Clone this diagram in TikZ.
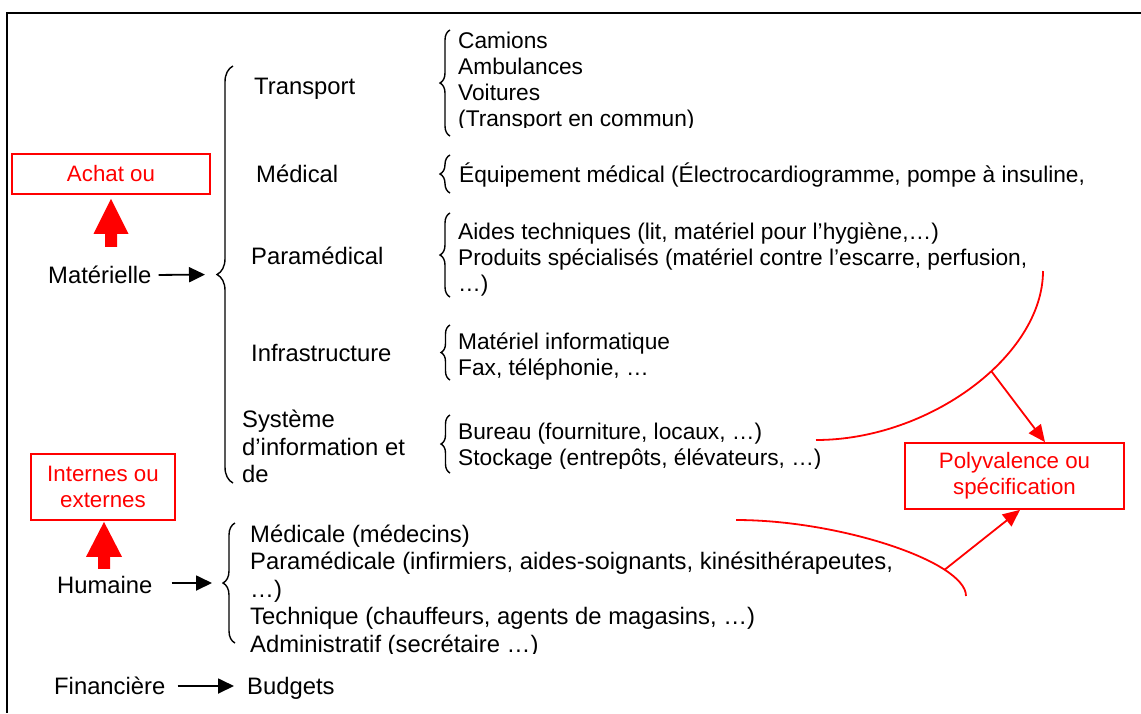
\documentclass[tikz,border=0pt]{standalone}
\usepackage{fontspec}
\setmainfont{Liberation Sans}
\usetikzlibrary{arrows.meta,decorations.pathreplacing,calc}
\begin{document}
\begin{tikzpicture}[x=1pt,y=-1pt,
  big/.style={font=\fontsize{23.8pt}{27.5pt}\selectfont, inner sep=0pt, anchor=base west},
  small/.style={font=\fontsize{22.7pt}{26.2pt}\selectfont, inner sep=0pt, anchor=base west},
  lab/.style={font=\fontsize{23.8pt}{27.5pt}\selectfont, inner sep=0pt, text height=18pt, text depth=2pt, anchor=west},
  redbox/.style={draw=red, line width=1.8pt, text=red, font=\fontsize{22.3pt}{26pt}\selectfont, align=center, inner sep=0pt},
  bracestyle/.style={draw, line width=1.4pt, decorate, decoration={brace, amplitude=#1}},
  blackarrow/.style={line width=1.8pt, -{Triangle[length=16pt,width=15pt]}},
  redarrow/.style={draw=red, line width=1.8pt, -{Triangle[length=17pt,width=15pt]}},
  redcurve/.style={draw=red, line width=1.8pt},
  bigred/.style={fill=red, draw=none}
]
\useasboundingbox (0,0) rectangle (1141,713);
% frame
\draw[line width=2pt] (1141,13) -- (7,13) -- (7,713);

% left labels
\node[lab] (mat) at (48,275) {Matérielle};
\node[lab] (hum) at (57,585) {Humaine};
\node[lab] (fin) at (54,686) {Financière};
\node[lab] (bud) at (247,686) {Budgets};

% red boxes
\node[redbox, minimum width=198pt, minimum height=40pt] (achat) at (111,174) {Achat ou};
\node[redbox, minimum width=144pt, minimum height=66pt] (intext) at (103,487) {Internes ou\\externes};
\node[redbox, minimum width=219pt, minimum height=66pt] (poly) at (1014.5,476) {Polyvalence ou\\spécification};

% big red arrows
\fill[bigred] ($(achat.south)+(0,4)$) -- ++(17.5,35) -- ++(-11.5,0) -- ++(0,13) -- ++(-12,0) -- ++(0,-13) -- ++(-11.5,0) -- cycle;
\fill[bigred] ($(intext.south)+(1,1)$) -- ++(18,35) -- ++(-12,0) -- ++(0,12) -- ++(-12,0) -- ++(0,-12) -- ++(-12,0) -- cycle;

% level 2 (materielle)
\node[big] (transport) at (254,94) {Transport};
\node[big] (medical) at (256,182) {Médical};
\node[big] (paramed) at (251,264) {Paramédical};
\node[big] (infra) at (251,361) {Infrastructure};
\node[big] (sys1) at (242,427) {Système};
\node[big] (sys2) at (242,455) {d’information et};
\node[big] (sys3) at (242,482) {de};

% big brace
\coordinate (bigB) at (233,483);
\coordinate (bigT) at (233,66);
\coordinate (bigTip) at (217,274.5);
\draw[bracestyle=16pt] (bigB) -- (bigT);
\draw[blackarrow, shorten <=7pt, shorten >=12pt] (mat.east) -- (bigTip);

% transport list
\begin{scope}
\clip (440,0) rectangle (1141,127.5);
\node[small] (cam) at (458,48) {Camions};
\node[small] (amb) at (458,74) {Ambulances};
\node[small] (voi) at (458,100) {Voitures};
\node[small] (tec) at (458,126) {(Transport en commun)};
\end{scope}
\coordinate (b1B) at (450,136); \coordinate (b1T) at (450,30);
\draw[bracestyle=10pt] (b1B) -- (b1T);

% medical list
\node[small] (equip) at (459,182) {Équipement médical (Électrocardiogramme, pompe à insuline,};
\coordinate (b2B) at (450,193); \coordinate (b2T) at (450,155);
\draw[bracestyle=10pt] (b2B) -- (b2T);

% paramedical list
\node[small] (aides) at (458,239) {Aides techniques (lit, matériel pour l’hygiène,…)};
\node[small] (prod) at (458,265) {Produits spécialisés (matériel contre l’escarre, perfusion,};
\node[small] (prod2) at (458,291) {…)};
\coordinate (b3B) at (450,297); \coordinate (b3T) at (450,213);
\draw[bracestyle=10pt] (b3B) -- (b3T);

% infrastructure list
\node[small] (info) at (458,349) {Matériel informatique};
\node[small] (fax) at (458,375) {Fax, téléphonie, …};
\coordinate (b4B) at (450,380); \coordinate (b4T) at (450,325);
\draw[bracestyle=9pt] (b4B) -- (b4T);

% systeme list
\node[small] (bur) at (458,439) {Bureau (fourniture, locaux, …)};
\begin{scope}
\clip (440,440) rectangle (1141,468);
\node[small] (sto) at (458,465) {Stockage (entrepôts, élévateurs, …)};
\end{scope}
\coordinate (b5B) at (450,473); \coordinate (b5T) at (450,415);
\draw[bracestyle=9pt] (b5B) -- (b5T);

% humaine list
\begin{scope}
\clip (240,500) rectangle (1141,653.5);
\node[big] (h1) at (250,542) {Médicale (médecins)};
\node[big] (h2) at (250,569) {Paramédicale (infirmiers, aides-soignants, kinésithérapeutes,};
\node[big] (h3) at (250,597) {…)};
\node[big] (h4) at (250,624) {Technique (chauffeurs, agents de magasins, …)};
\node[big] (h5) at (250,652) {Administratif (secrétaire …)};
\end{scope}
\coordinate (hB) at (235,643); \coordinate (hT) at (235,523);
\coordinate (humTip) at (223,583);
\draw[bracestyle=12pt] (hB) -- (hT);
\draw[blackarrow, shorten <=19pt, shorten >=11pt] (hum.east |- humTip) -- (humTip);

% financiere
\draw[blackarrow, shorten <=12pt, shorten >=13pt] (fin.east) -- (bud.west);

% red curves
\coordinate (c1s) at (816,440);
\coordinate (c1e) at (1043,271);
\draw[redcurve] (c1s) .. controls (929.5,440) and (1043,355.5) .. (c1e) coordinate[pos=0.58] (k1);
\draw[redarrow] (k1) -- ($(poly.north)+(30.5,0)$);

\coordinate (c2s) at (736,520);
\coordinate (c2e) at (966,596);
\draw[redcurve] (c2s) .. controls (839.5,520) and (966,561.8) .. (c2e) coordinate[pos=0.75] (k2);
\draw[redarrow] (k2) -- ($(poly.south)+(5.5,0)$);
\end{tikzpicture}
\end{document}
